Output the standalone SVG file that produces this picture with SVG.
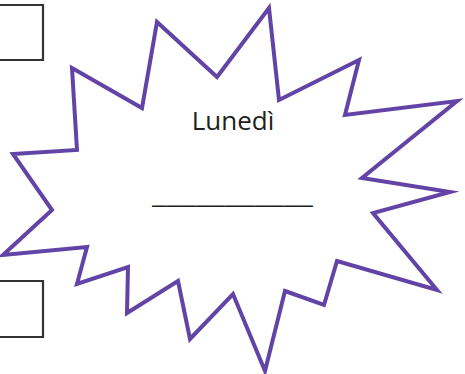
<svg xmlns="http://www.w3.org/2000/svg" width="465" height="374" viewBox="0 0 465 374">
<style>
.box{fill:none;stroke:#333;stroke-width:2.2}
.star{fill:#fff;stroke:#6244a6;stroke-width:4;stroke-linejoin:miter;stroke-miterlimit:20}
.t{font-family:"Open Sans","Liberation Sans",sans-serif;fill:#231f20}
</style>
<rect width="465" height="374" fill="#fff"/>
<g id="box-top"><path class="box" d="M-2,5 H43 V60 H-2"/></g>
<g id="box-bottom"><path class="box" d="M-2,281 H43 V337 H-2"/></g>
<g id="star">
<polygon class="star" points="72,68 142,108 157,22 217,77 269,8 279,100 359,60 345,115 457,101 362,178 450,192 373,213 437,290 337,261 324,305 285,291 265,371 233,294 190,339 178,281 127,313 128,267 77,284 87,247 3,255 52,210 13,154 77,150"/>
<text class="t" x="233" y="130" font-size="26" text-anchor="middle">Lunedì</text>
<text class="t" x="232.5" y="203" font-size="26" text-anchor="middle" textLength="161" lengthAdjust="spacingAndGlyphs">___________</text>
</g>
</svg>
